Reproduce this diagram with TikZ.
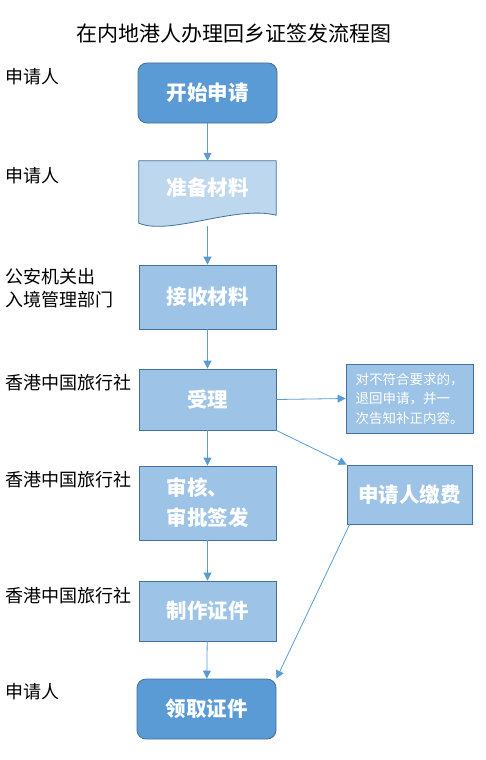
\documentclass[tikz,border=0pt]{standalone}
\usepackage{fontspec}
\setmainfont{Noto Sans CJK SC}
\usetikzlibrary{arrows.meta, positioning, calc}
\definecolor{flowdark}{HTML}{5B9BD5}
\definecolor{flowmid}{HTML}{9DC3E6}
\definecolor{flowpale}{HTML}{BDD7EE}
\definecolor{flowedge}{HTML}{41719C}
\definecolor{flowline}{HTML}{5B9BD5}

\begin{document}
\begin{tikzpicture}[
    x=1pt, y=-1pt,
    terminal/.style={rectangle, draw=flowedge, fill=flowdark, minimum width=139pt,
                     minimum height=60pt, align=center, rounded corners=9pt,
                     font=\fontsize{20.5}{30}\selectfont\bfseries, text=white, line width=0.8pt},
    process/.style={rectangle, draw=flowedge, fill=flowmid, minimum width=137pt,
                    minimum height=61pt, align=center,
                    font=\fontsize{20.5}{30}\selectfont\bfseries, text=white, line width=0.8pt},
    document/.style={rectangle, minimum width=137pt, minimum height=54pt, align=center,
                     font=\fontsize{20.5}{30}\selectfont\bfseries, text=white},
    notice/.style={rectangle, draw=flowedge, fill=flowmid, minimum width=127pt,
                   minimum height=69pt, align=left,
                   font=\fontsize{13.5}{19.5}\selectfont, text=white, line width=0.8pt},
    role/.style={anchor=west, align=left, font=\fontsize{18}{23}\selectfont},
    arrow/.style={-{Triangle[length=8pt, width=8pt]}, flowline, line width=0.8pt}
]
    \useasboundingbox (0,0) rectangle (486,760);

    \node[font=\fontsize{21}{24}\selectfont] (title) at (233.5,34) {在内地港人办理回乡证签发流程图};

    % roles
    \node[role] (r1) at (1.5,77) {申请人};
    \node[role] (r2) at (1.5,176) {申请人};
    \node[role] (r3) at (1.5,288.5) {公安机关出\\入境管理部门};
    \node[role] (r4) at (1.5,383) {香港中国旅行社};
    \node[role] (r5) at (1.5,480) {香港中国旅行社};
    \node[role] (r6) at (1.5,596) {香港中国旅行社};
    \node[role] (r7) at (1.5,692) {申请人};

    % flow
    \node[terminal] (start) at (207.5,93) {开始申请};
    \node[document] (prep) at (207.5,188) {};
    \fill[flowpale] (prep.north west) -- (prep.north east) -- (prep.south east)
        .. controls (235,205) and (170,236) .. ($(prep.south west)+(0,8)$) -- cycle;
    \draw[flowedge, line width=0.8pt] (prep.north west) -- (prep.north east) -- (prep.south east)
        .. controls (235,205) and (170,236) .. ($(prep.south west)+(0,8)$) -- cycle;
    \node[document] at (prep) {准备材料};
    \coordinate (prepwave) at ($(prep.south)+(0,11)$);
    \node[process, minimum height=64pt] (recv) at (207.5,297) {接收材料};
    \node[process] (accept) at (207.5,399.5) {受理};
    \node[process, minimum height=74pt, align=left] (review) at (207.5,503) {审核、\\审批签发};
    \node[process, minimum height=60pt] (make) at (207.5,611) {制作证件};
    \node[terminal] (collect) at (206.5,709) {领取证件};

    \node[notice] (reject) at (409.5,398.5) {对不符合要求的，\\退回申请，并一\\次告知补正内容。};
    \node[process, minimum width=125pt, minimum height=59pt] (fee) at (409.5,494.5) {申请人缴费};

    \draw[arrow] (start) -- (prep);
    \draw[arrow] (prepwave) -- (recv);
    \draw[arrow] (recv) -- (accept);
    \draw[arrow] (accept) -- (review);
    \draw[arrow] (review) -- (make);
    \draw[arrow] (make) -- (collect);
    \draw[arrow] (accept.east) -- (reject.west);
    \draw[arrow] (accept.south east) -- (fee.north west);
    \draw[arrow] ($(fee.south west)+(3,0)$) -- (collect.north east);
\end{tikzpicture}
\end{document}
